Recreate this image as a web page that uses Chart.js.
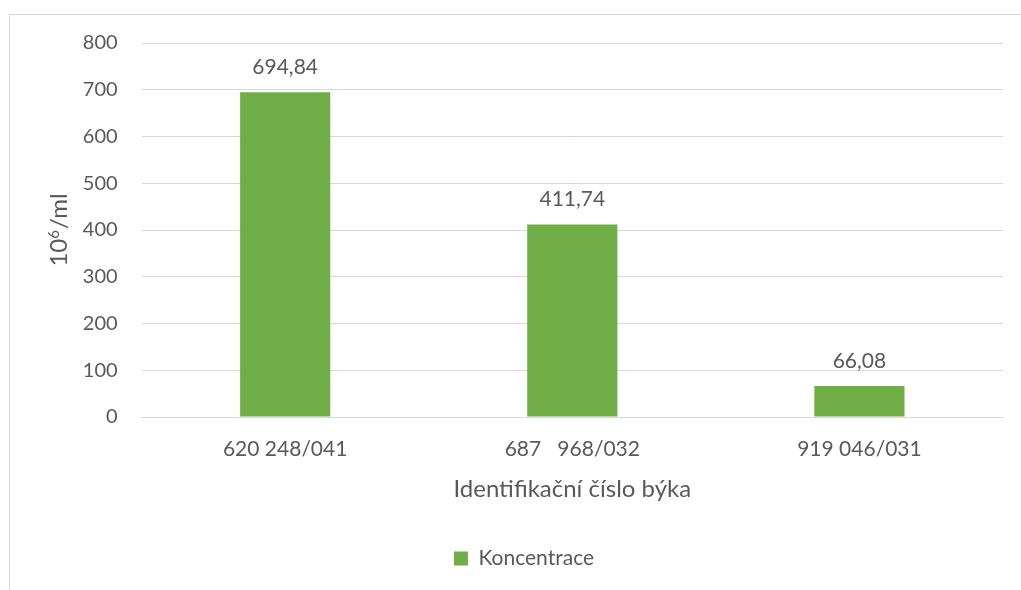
<!DOCTYPE html>
<html>
<head>
<meta charset="utf-8">
<script src="https://cdn.jsdelivr.net/npm/chart.js@4"></script>
<style>
  html, body { margin: 0; padding: 0; background: #fff; }
  .wrap { position: relative; width: 1021px; height: 590px; overflow: hidden; }
  .frame { position: absolute; left: 9px; top: 14px; width: 1100px; height: 700px;
           border-left: 1px solid #D9D9D9; border-top: 1px solid #D9D9D9; }
  canvas { position: absolute; left: 0; top: 0; }
</style>
</head>
<body>
<div class="wrap">
  <div class="frame"></div>
  <canvas id="chart" width="1021" height="590"></canvas>
</div>
<script>
// data
const categories = ['620 248/041', '687   968/032', '919 046/031'];
const koncentrace = [694.84, 411.74, 66.08];
const yTicks = [0, 100, 200, 300, 400, 500, 600, 700, 800];

const textColor = '#595959';
const fontFamily = 'Lato, "Open Sans", sans-serif';

// value labels above bars, Czech decimal comma
const barLabels = {
  id: 'barLabels',
  afterDatasetsDraw(chart) {
    const ctx = chart.ctx;
    const meta = chart.getDatasetMeta(0);
    ctx.save();
    ctx.fillStyle = textColor;
    ctx.font = '21px ' + fontFamily;
    ctx.textAlign = 'center';
    ctx.textBaseline = 'middle';
    meta.data.forEach((bar, i) => {
      const txt = koncentrace[i].toFixed(2).replace('.', ',');
      ctx.fillText(txt, bar.x, bar.y - 25);
    });
    ctx.restore();
  }
};

// y title "10^6/ml" with a real-size superscript (the unicode ⁶ in Lato is tiny)
const unitTitle = {
  id: 'unitTitle',
  afterDraw(chart) {
    const ctx = chart.ctx;
    const area = chart.chartArea;
    const big = '24px ' + fontFamily;
    const small = '15px ' + fontFamily;
    ctx.save();
    ctx.fillStyle = textColor;
    ctx.textBaseline = 'alphabetic';
    ctx.textAlign = 'left';
    ctx.font = big;
    const w1 = ctx.measureText('10').width;
    const w3 = ctx.measureText('/ml').width;
    ctx.font = small;
    const w2 = ctx.measureText('6').width + 1;
    const total = w1 + w2 + w3;
    ctx.translate(59 + 8, (area.top + area.bottom) / 2);
    ctx.rotate(-Math.PI / 2);
    let x = -total / 2;
    ctx.font = big;
    ctx.fillText('10', x, 0);
    x += w1;
    ctx.font = small;
    ctx.fillText('6', x, -8);
    x += w2;
    ctx.font = big;
    ctx.fillText('/ml', x, 0);
    ctx.restore();
  }
};

new Chart(document.getElementById('chart'), {
  type: 'bar',
  data: {
    labels: categories,
    datasets: [{
      label: 'Koncentrace',
      data: koncentrace,
      backgroundColor: '#70AD47',
      borderWidth: 0,
      barPercentage: 0.314,
      categoryPercentage: 1
    }]
  },
  options: {
    responsive: false,
    animation: false,
    devicePixelRatio: 1,
    layout: { padding: { left: 45, right: 18, top: 43, bottom: 11 } },
    plugins: {
      legend: {
        position: 'bottom',
        labels: {
          color: textColor,
          font: { family: fontFamily, size: 21 },
          boxWidth: 14,
          boxHeight: 14,
          padding: 44
        }
      },
      tooltip: { enabled: false }
    },
    scales: {
      y: {
        min: 0,
        max: 800,
        afterBuildTicks(axis) {
          axis.ticks = yTicks.map(v => ({ value: v }));
        },
        grid: { color: '#D9D9D9', drawTicks: false },
        border: { display: false },
        ticks: {
          color: textColor,
          font: { family: fontFamily, size: 20 },
          padding: 24
        },
        title: {
          // keeps the space, the visible text is drawn by unitTitle
          display: true,
          text: '10⁶/ml',
          color: 'rgba(0,0,0,0)',
          font: { family: fontFamily, size: 24 },
          // chart.js reserves the tick padding twice, pull the title back in
          padding: { top: 0, bottom: -15 }
        }
      },
      x: {
        grid: { display: false, drawTicks: false },
        border: { color: '#D9D9D9' },
        ticks: {
          color: textColor,
          font: { family: fontFamily, size: 21 },
          padding: 20
        },
        title: {
          display: true,
          text: 'Identifikační číslo býka',
          color: textColor,
          font: { family: fontFamily, size: 24 },
          padding: { top: -7, bottom: 0 }
        }
      }
    }
  },
  plugins: [barLabels, unitTitle]
});
</script>
</body>
</html>
